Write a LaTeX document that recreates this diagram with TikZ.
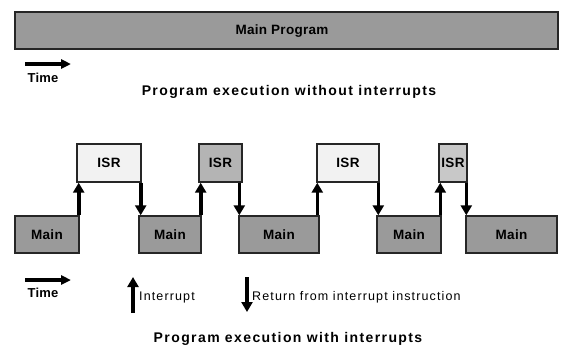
\documentclass[tikz,border=0pt]{standalone}
\usepackage{fontspec}
\setmainfont{Liberation Sans}
\newfontfamily\trackedsans[LetterSpace=2]{Liberation Sans}
\newfontfamily\widesans[LetterSpace=9]{Liberation Sans}
\newfontfamily\titlesans[LetterSpace=10]{Liberation Sans}
\usetikzlibrary{arrows.meta}
\definecolor{maingray}{HTML}{9A9A9A}
\definecolor{isrlight}{HTML}{F2F2F2}
\definecolor{isrmid}{HTML}{B4B4B4}
\definecolor{isrpale}{HTML}{C8C8C8}
\definecolor{edge}{HTML}{262626}
\tikzset{
  blk/.style={draw=edge, line width=1.4pt, inner sep=0pt,
    font=\trackedsans\fontsize{13.5}{15}\selectfont\bfseries},
  flow/.style={line width=3.6pt, -{Triangle[width=11pt,length=10pt]}},
  timearrow/.style={line width=3.2pt, -{Triangle[width=9pt,length=10pt]}},
  caption/.style={font=\titlesans\fontsize{14}{16}\selectfont\bfseries},
  legend/.style={font=\widesans\fontsize{12.5}{14}\selectfont, anchor=west, inner sep=0pt},
  timelabel/.style={font=\trackedsans\fontsize{13}{15}\selectfont\bfseries}
}
\begin{document}
\begin{tikzpicture}[x=1pt,y=1pt]
\useasboundingbox (0,0) rectangle (563,-349);

% program running without interrupts
\draw[blk, fill=maingray, line width=1.8pt] (15,-12) rectangle (558,-49);
\node[blk, draw=none] (mainprog) at (282,-31) {Main Program};
\coordinate (t1a) at (25,-64);
\coordinate (t1b) at (71,-64);
\draw[timearrow] (t1a) -- (t1b);
\node[timelabel] (time1) at (43,-78) {Time};
\node[caption] (cap1) at (289,-92) {Program execution without interrupts};

% program with interrupt service routines
\node[blk, fill=isrlight, minimum width=64pt, minimum height=38pt] (isr1) at (109,-163) {ISR};
\node[blk, fill=isrmid,   minimum width=43pt, minimum height=38pt] (isr2) at (220.5,-163) {ISR};
\node[blk, fill=isrlight, minimum width=62pt, minimum height=38pt] (isr3) at (348,-163) {ISR};
\node[blk, fill=isrpale,  minimum width=28pt, minimum height=38pt] (isr4) at (453,-163) {ISR};

\node[blk, fill=maingray, minimum width=64pt, minimum height=37pt] (m1) at (47,-234.5) {Main};
\node[blk, fill=maingray, minimum width=62pt, minimum height=37pt] (m2) at (170,-234.5) {Main};
\node[blk, fill=maingray, minimum width=80pt, minimum height=37pt] (m3) at (279,-234.5) {Main};
\node[blk, fill=maingray, minimum width=64pt, minimum height=37pt] (m4) at (409,-234.5) {Main};
\node[blk, fill=maingray, minimum width=91pt, minimum height=37pt] (m5) at (511.5,-234.5) {Main};

% interrupt entries and returns
\draw[flow] ([xshift=-1pt]m1.north east) -- ([xshift=-1pt]m1.north east |- isr1.south);
\draw[flow] ([xshift=-1pt]isr1.south east) -- ([xshift=-1pt]isr1.south east |- m2.north);
\draw[flow] ([xshift=-1pt]m2.north east) -- ([xshift=-1pt]m2.north east |- isr2.south);
\draw[flow] ([xshift=1pt]m3.north west |- isr2.south) -- ([xshift=1pt]m3.north west);
\draw[flow] ([xshift=1pt]isr3.south west |- m3.north) -- ([xshift=1pt]isr3.south west);
\draw[flow] ([xshift=2pt]m4.north west |- isr3.south) -- ([xshift=2pt]m4.north west);
\draw[flow] ([xshift=2pt]isr4.south west |- m4.north) -- ([xshift=2pt]isr4.south west);
\draw[flow] ([xshift=1pt]m5.north west |- isr4.south) -- ([xshift=1pt]m5.north west);

% legend
\coordinate (t2a) at (25,-280);
\coordinate (t2b) at (71,-280);
\draw[timearrow] (t2a) -- (t2b);
\node[timelabel] (time2) at (43,-293) {Time};
\coordinate (upa) at (133,-313);
\coordinate (upb) at (133,-277);
\draw[flow, line width=3.2pt] (upa) -- (upb);
\node[legend] (intlbl) at (139,-297) {Interrupt};
\coordinate (dna) at (247,-277);
\coordinate (dnb) at (247,-312);
\draw[flow, line width=3.2pt] (dna) -- (dnb);
\node[legend] (retlbl) at (252,-297) {Return from interrupt instruction};
\node[caption] (cap2) at (288,-339) {Program execution with interrupts};
\end{tikzpicture}
\end{document}
